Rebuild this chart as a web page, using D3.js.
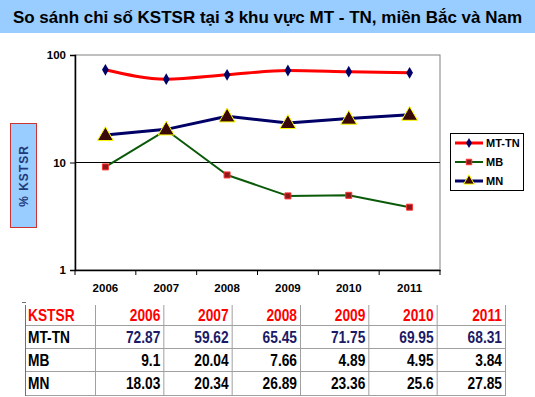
<!DOCTYPE html>
<html>
<head>
<meta charset="utf-8">
<script src="https://cdn.jsdelivr.net/npm/d3@7"></script>
<style>
  body { margin: 0; background: #fff; }
  svg { display: block; font-family: "Liberation Sans", Arial, sans-serif; }
  .axis text { font-family: "Liberation Sans", Arial, sans-serif; font-size: 11.5px; font-weight: bold; fill: #000; }
</style>
</head>
<body>
<svg id="chart" width="535" height="397"></svg>
<script>
const title = 'So sánh chỉ số KSTSR tại 3 khu vực MT - TN, miền Bắc và Nam';
const years = ['2006', '2007', '2008', '2009', '2010', '2011'];
const mtTn = [72.87, 59.62, 65.45, 71.75, 69.95, 68.31];
const mb = [9.1, 20.04, 7.66, 4.89, 4.95, 3.84];
const mn = [18.03, 20.34, 26.89, 23.36, 25.6, 27.85];
const yTicks = [1, 10, 100];

const series = [
  { name: 'MT-TN', values: mtTn, line: '#ff0000', width: 3, marker: 'diamond', fill: '#000066', stroke: '#000066', curve: d3.curveMonotoneX },
  { name: 'MB', values: mb, line: '#0a5a0a', width: 2, marker: 'square', fill: '#8b1a1a', stroke: '#ff3333', curve: d3.curveLinear },
  { name: 'MN', values: mn, line: '#000066', width: 3, marker: 'triangle', fill: '#3a0a0a', stroke: '#ffff00', curve: d3.curveLinear }
];

const svg = d3.select('#chart');
const W = 535;

// title bar
svg.append('rect').attr('x', 0).attr('y', 0).attr('width', W).attr('height', 33).attr('fill', '#99ccff');
svg.append('text')
  .attr('x', W / 2).attr('y', 23)
  .attr('text-anchor', 'middle')
  .attr('font-size', 17).attr('font-weight', 'bold')
  .attr('fill', '#000')
  .text(title);

// plot area
const plot = { left: 75, right: 440, top: 55, bottom: 270 };

const x = d3.scaleBand().domain(years).range([plot.left, plot.right]);
const y = d3.scaleLog().domain([1, 100]).range([plot.bottom, plot.top]);

svg.append('rect')
  .attr('x', plot.left).attr('y', plot.top)
  .attr('width', plot.right - plot.left).attr('height', plot.bottom - plot.top)
  .attr('fill', '#fff').attr('stroke', '#808080').attr('stroke-width', 1);

// gridline at 10
svg.append('line')
  .attr('x1', plot.left).attr('x2', plot.right)
  .attr('y1', y(10)).attr('y2', y(10))
  .attr('stroke', '#000').attr('stroke-width', 1.2);

// x axis
const xAxis = svg.append('g')
  .attr('class', 'axis')
  .attr('transform', `translate(0,${plot.bottom})`)
  .call(d3.axisBottom(x).tickSize(0).tickPadding(14));
xAxis.select('.domain').attr('stroke', '#000').attr('stroke-width', 1.5);
// tick marks between categories
xAxis.selectAll('line.sep')
  .data(years.map(d => x(d)).concat([plot.right]))
  .enter().append('line')
  .attr('class', 'sep')
  .attr('x1', d => d).attr('x2', d => d)
  .attr('y1', 0).attr('y2', 5)
  .attr('stroke', '#000');

// y axis
const yAxis = svg.append('g')
  .attr('class', 'axis')
  .attr('transform', `translate(${plot.left},0)`)
  .call(d3.axisLeft(y).tickValues(yTicks).tickFormat(d3.format('d')).tickSize(5).tickPadding(4));
yAxis.select('.domain').attr('stroke', '#000').attr('stroke-width', 1.5);

// y label box
svg.append('rect')
  .attr('x', 10.5).attr('y', 123.5).attr('width', 26).attr('height', 104)
  .attr('fill', '#99ccff').attr('stroke', '#cc3333').attr('stroke-width', 1);
svg.append('text')
  .attr('transform', 'translate(28,176) rotate(-90)')
  .attr('text-anchor', 'middle')
  .attr('font-size', 12).attr('font-weight', 'bold')
  .attr('letter-spacing', 1)
  .attr('fill', '#1f3a7a')
  .text('% KSTSR');

// symbols
function symbolFor(kind, size) {
  const t = kind === 'diamond' ? d3.symbolDiamond : kind === 'square' ? d3.symbolSquare : d3.symbolTriangle;
  return d3.symbol().type(t).size(size)();
}
const markerSize = { diamond: 40, square: 36, triangle: 110 };

const cx = d => x(d) + x.bandwidth() / 2;

series.forEach(s => {
  const pts = years.map((yr, i) => [cx(yr), y(s.values[i])]);
  svg.append('path')
    .attr('d', d3.line().curve(s.curve)(pts))
    .attr('fill', 'none')
    .attr('stroke', s.line)
    .attr('stroke-width', s.width)
    .attr('stroke-linejoin', 'round');
  svg.append('g').selectAll('path')
    .data(pts)
    .enter().append('path')
    .attr('transform', d => `translate(${d[0]},${d[1] + (s.marker === 'triangle' ? 1 : 0)})`)
    .attr('d', symbolFor(s.marker, markerSize[s.marker]))
    .attr('fill', s.fill)
    .attr('stroke', s.stroke)
    .attr('stroke-width', s.marker === 'diamond' ? 0 : 1);
});

// legend
const lg = svg.append('g');
lg.append('rect')
  .attr('x', 450.5).attr('y', 133.5).attr('width', 73).attr('height', 57)
  .attr('fill', '#fff').attr('stroke', '#000').attr('stroke-width', 1);
series.forEach((s, i) => {
  const ly = 143 + i * 19;
  lg.append('line')
    .attr('x1', 455).attr('x2', 483).attr('y1', ly).attr('y2', ly)
    .attr('stroke', s.line).attr('stroke-width', s.width);
  lg.append('path')
    .attr('transform', `translate(469,${ly})`)
    .attr('d', symbolFor(s.marker, s.marker === 'triangle' ? 50 : 30))
    .attr('fill', s.fill).attr('stroke', s.stroke)
    .attr('stroke-width', s.marker === 'diamond' ? 0 : 1);
  lg.append('text')
    .attr('x', 486).attr('y', ly + 4)
    .attr('font-size', 11).attr('font-weight', 'bold')
    .text(s.name);
});

// table
const colX = [25, 95].concat(d3.range(1, 7).map(i => 95 + i * (505 - 95) / 6));
const rowY = [305, 325, 348, 371, 395];
const rows = [
  { label: 'KSTSR', cells: years, color: '#ff0000', labelColor: '#ff0000' },
  { label: 'MT-TN', cells: mtTn, color: '#1a1a66', labelColor: '#000' },
  { label: 'MB', cells: mb, color: '#000', labelColor: '#000' },
  { label: 'MN', cells: mn, color: '#000', labelColor: '#000' }
];

const tbl = svg.append('g');
rowY.slice(1).forEach(ry => {
  tbl.append('line').attr('x1', 25).attr('x2', 505).attr('y1', ry + 0.5).attr('y2', ry + 0.5)
    .attr('stroke', '#a0a0a0').attr('stroke-width', 1);
});
colX.forEach((cxp, i) => {
  tbl.append('line').attr('x1', cxp + 0.5).attr('x2', cxp + 0.5).attr('y1', rowY[0]).attr('y2', 396)
    .attr('stroke', i === 0 ? '#707070' : '#a0a0a0').attr('stroke-width', 1);
});
tbl.append('line').attr('x1', 22).attr('x2', 26).attr('y1', 302.5).attr('y2', 302.5).attr('stroke', '#707070');

const squeeze = 0.86;
rows.forEach((r, ri) => {
  const my = (rowY[ri] + rowY[ri + 1]) / 2 + 6;
  tbl.append('text')
    .attr('transform', `translate(28,${my}) scale(${squeeze},1)`)
    .attr('font-size', 16).attr('font-weight', 'bold')
    .attr('fill', r.labelColor)
    .text(r.label);
  r.cells.forEach((c, ci) => {
    tbl.append('text')
      .attr('transform', `translate(${colX[ci + 2] - 3},${my}) scale(${squeeze},1)`)
      .attr('text-anchor', 'end')
      .attr('font-size', 16).attr('font-weight', 'bold')
      .attr('fill', r.color)
      .text(c);
  });
});
</script>
</body>
</html>
